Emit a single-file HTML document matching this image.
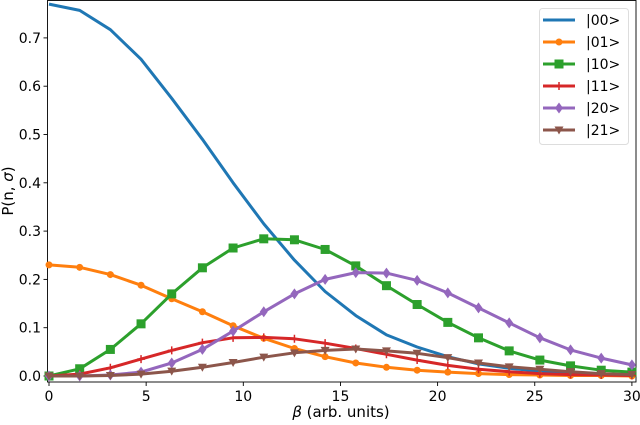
<!DOCTYPE html>
<html><head><meta charset="utf-8"><style>
body{margin:0;background:#fff;width:640px;height:420px;overflow:hidden}
svg text{font-family:"DejaVu Sans","Liberation Sans",sans-serif;fill:#000}
</style></head><body>
<svg id="chart" width="640" height="420" viewBox="0 0 640 420" xmlns="http://www.w3.org/2000/svg"></svg>
<script>
const betaValues=[0,1.579,3.158,4.737,6.316,7.895,9.474,11.053,12.632,14.211,15.789,17.368,18.947,20.526,22.105,23.684,25.263,26.842,28.421,30];
const s00=[0.77,0.757,0.717,0.656,0.575,0.49,0.40,0.315,0.24,0.175,0.125,0.085,0.06,0.04,0.025,0.016,0.01,0.006,0.004,0.002];
const s01=[0.23,0.225,0.21,0.188,0.16,0.133,0.104,0.078,0.057,0.04,0.027,0.018,0.012,0.008,0.005,0.003,0.002,0.001,0.001,0.0];
const s10=[0.0,0.015,0.055,0.108,0.17,0.224,0.265,0.284,0.282,0.262,0.228,0.187,0.148,0.111,0.079,0.052,0.033,0.021,0.012,0.008];
const s11=[0,0.004,0.017,0.035,0.053,0.069,0.079,0.08,0.077,0.068,0.057,0.045,0.033,0.022,0.014,0.009,0.005,0.003,0.002,0.001];
const s20=[0,0,0.002,0.008,0.027,0.055,0.093,0.133,0.17,0.2,0.214,0.213,0.198,0.172,0.141,0.11,0.079,0.054,0.037,0.023];
const s21=[0,0,0.001,0.004,0.01,0.018,0.028,0.039,0.048,0.053,0.056,0.052,0.047,0.038,0.027,0.019,0.014,0.009,0.005,0.003];
const seriesNames=["|00>","|01>","|10>","|11>","|20>","|21>"];
const xTicks=[0,5,10,15,20,25,30];
const yTicks=[0,0.1,0.2,0.3,0.4,0.5,0.6,0.7];

const NS="http://www.w3.org/2000/svg";
const svg=document.getElementById('chart');
const X=v=>49+v*19.43;
const Y=v=>376-v*483;
function el(t,a,p){const e=document.createElementNS(NS,t);for(const k in a)e.setAttribute(k,a[k]);(p||svg).appendChild(e);return e;}
function marker(kind,x,y,c,g){
  if(kind==='o')return el('circle',{cx:x,cy:y,r:3.5,fill:c},g);
  if(kind==='s')return el('rect',{x:x-4.5,y:y-4.5,width:9,height:9,fill:c},g);
  if(kind==='+')return el('path',{d:`M${x-4},${y}H${x+4}M${x},${y-4}V${y+4}`,stroke:c,'stroke-width':1.5},g);
  if(kind==='d')return el('path',{d:`M${x},${y-5.5}L${x+4},${y}L${x},${y+5.5}L${x-4},${y}Z`,fill:c},g);
  if(kind==='v')return el('path',{d:`M${x-4.5},${y-3.5}L${x+4.5},${y-3.5}L${x},${y+4.5}Z`,fill:c},g);
}
const series=[s00,s01,s10,s11,s20,s21];
const colors=["#1f77b4","#ff7f0e","#2ca02c","#d62728","#9467bd","#8c564b"];
const marks=["","o","s","+","d","v"];
const dnames=["series-00","series-01","series-10","series-11","series-20","series-21"];

// axes frame
const frame=el('rect',{x:47.5,y:0.5,width:588.5,height:381.5,fill:'none',stroke:'#000','stroke-width':0.9});



xTicks.forEach(t=>{
  const g=el('g',{});
  
  
  el('line',{x1:X(t),x2:X(t),y1:382,y2:386,stroke:'#000','stroke-width':0.9},g);
  const tx=el('text',{x:X(t),y:401,'text-anchor':'middle','font-size':14},g);tx.textContent=t;
});
yTicks.forEach(t=>{
  const g=el('g',{});
  
  
  el('line',{x1:43.5,x2:47.5,y1:Y(t),y2:Y(t),stroke:'#000','stroke-width':0.9},g);
  const tx=el('text',{x:41,y:Y(t)+5,'text-anchor':'end','font-size':14},g);tx.textContent=t.toFixed(1);
});
const xl=el('text',{x:341,y:417,'text-anchor':'middle','font-size':15});
xl.innerHTML='<tspan font-style="italic">β</tspan> (arb. units)';


const yl=el('text',{x:0,y:0,'text-anchor':'middle','font-size':15,transform:'translate(13,191) rotate(-90)'});
yl.innerHTML='P(n, <tspan font-style="italic">σ</tspan>)';



series.forEach((s,i)=>{
  const g=el('g',{});
  
  
  const d=s.map((v,j)=>(j?'L':'M')+X(betaValues[j]).toFixed(1)+','+Y(v).toFixed(1)).join('');
  el('path',{d:d,fill:'none',stroke:colors[i],'stroke-width':3,'stroke-linejoin':'round'},g);
  if(marks[i])s.forEach((v,j)=>marker(marks[i],X(betaValues[j]),Y(v),colors[i],g));
});

// legend
const lg=el('g',{});


el('rect',{x:539.5,y:8.5,width:89,height:136,rx:3,fill:'#fff','fill-opacity':0.8,stroke:'#ddd'},lg);
seriesNames.forEach((n,i)=>{
  const y=20+i*22;
  const e=el('g',{},lg);
  
  
  el('line',{x1:543,x2:575,y1:y,y2:y,stroke:colors[i],'stroke-width':3},e);
  if(marks[i])marker(marks[i],559,y,colors[i],e);
  const t=el('text',{x:586,y:y+5,'font-size':14},e);t.textContent=n;
});
</script>
</body></html>
